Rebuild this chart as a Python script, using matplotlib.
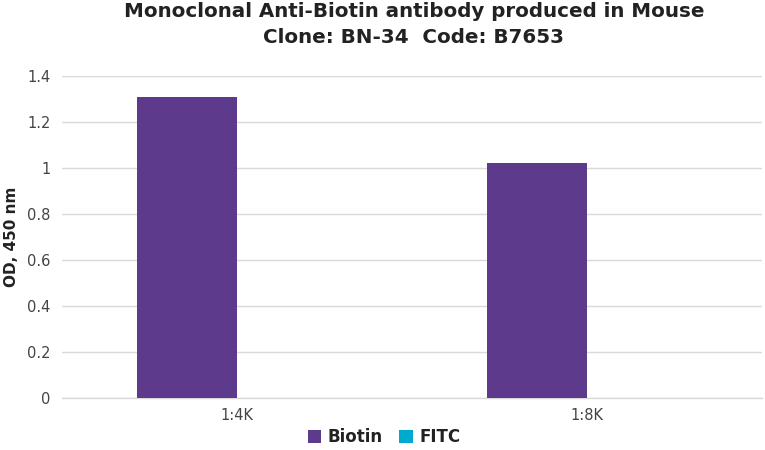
import matplotlib
matplotlib.use("Agg")
import matplotlib.pyplot as plt
import numpy as np

# Data
dilutions = ["1:4K", "1:8K"]
biotin = [1.31, 1.02]
fitc = [0.0, 0.0]
y_ticks = [0, 0.2, 0.4, 0.6, 0.8, 1.0, 1.2, 1.4]
y_tick_labels = ["0", "0.2", "0.4", "0.6", "0.8", "1", "1.2", "1.4"]

PURPLE = "#5E3A8C"
CYAN = "#00A9CE"
TEXT = "#222222"
TICK = "#444444"
GRID = "#D9D9D9"

plt.rcParams["font.family"] = ["DejaVu Sans"]

fig = plt.figure(figsize=(7.65, 4.5), dpi=100)
ax = fig.add_axes([0.081, 0.1156, 0.915, 0.7156])

x = np.arange(len(dilutions))
width = 0.286
ax.bar(x - width / 2, biotin, width, color=PURPLE, label="Biotin", zorder=3)
ax.bar(x + width / 2, fitc, width, color=CYAN, label="FITC", zorder=3)

ax.set_xlim(-0.5, len(dilutions) - 0.5)
ax.set_ylim(0, 1.4)
ax.set_yticks(y_ticks)
ax.set_yticklabels(y_tick_labels)
ax.set_xticks(x)
ax.set_xticklabels(dilutions)
ax.tick_params(axis="both", length=0, labelsize=10.5, colors=TICK, pad=8)
ax.tick_params(axis="x", pad=7)

ax.grid(axis="y", color=GRID, linewidth=1, zorder=0)
for side in ["top", "right", "left"]:
    ax.spines[side].set_visible(False)
ax.spines["bottom"].set_color(GRID)
ax.spines["bottom"].set_linewidth(1)

ax.set_ylabel("OD, 450 nm", fontsize=11, fontweight="bold", color=TEXT, labelpad=6)

fig.text(0.541, 0.995, "Monoclonal Anti-Biotin antibody produced in Mouse\nClone: BN-34  Code: B7653",
         ha="center", va="top", fontsize=14.3, fontweight="bold", color=TEXT, linespacing=1.42)

leg = fig.legend(loc="lower center", bbox_to_anchor=(0.502, -0.025), ncol=2, frameon=False,
                 fontsize=12, handlelength=0.8, handleheight=0.8, handletextpad=0.4,
                 columnspacing=1.0)
for t in leg.get_texts():
    t.set_fontweight("bold")
    t.set_color(TEXT)

fig.savefig("out.png", dpi=100, facecolor="white")
